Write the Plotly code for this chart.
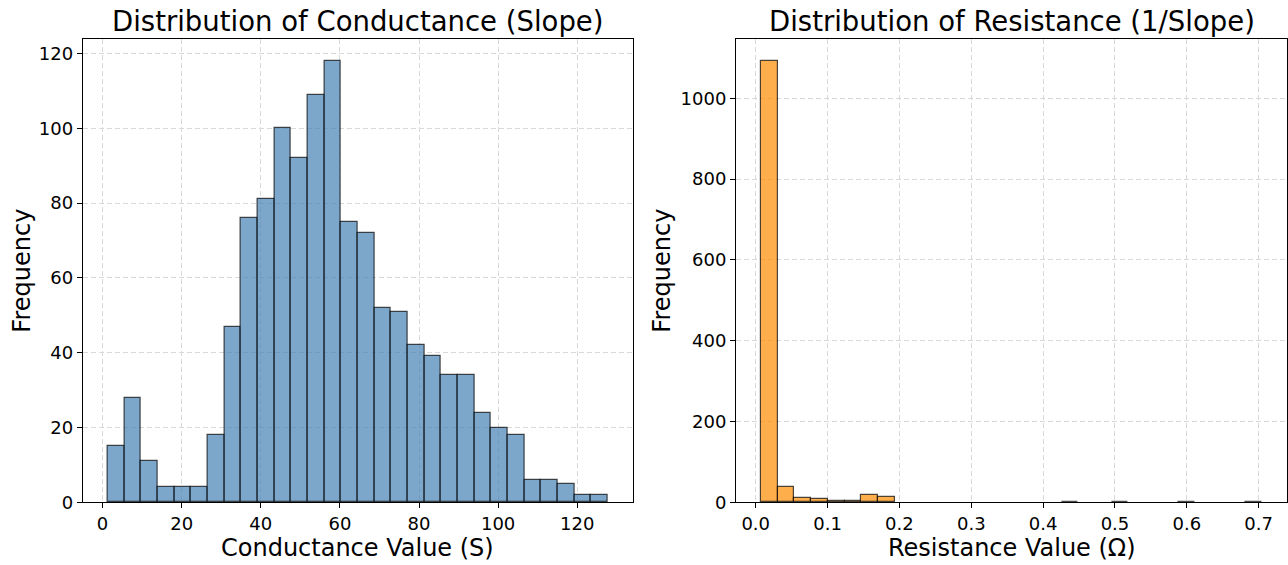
import numpy as np
import plotly.graph_objects as go

# ---- data ----
cond_min, cond_max = 1.3, 127.7
cond_counts = [15, 28, 11, 4, 4, 4, 18, 47, 76, 81, 100, 92, 109, 118, 75,
               72, 52, 51, 42, 39, 34, 34, 24, 20, 18, 6, 6, 5, 2, 2]

res_min, res_max = 0.0074, 0.7046
res_counts = [1092, 37, 10, 7, 3, 3, 19, 13, 0, 0, 0, 0, 0, 0, 0,
              0, 0, 0, 1, 0, 0, 1, 0, 0, 0, 1, 0, 0, 0, 1]

left_title = "Distribution of Conductance (Slope)"
right_title = "Distribution of Resistance (1/Slope)"
left_xlabel = "Conductance Value (S)"
right_xlabel = "Resistance Value (Ω)"
ylabel = "Frequency"


def bins(lo, hi, counts):
    edges = np.linspace(lo, hi, len(counts) + 1)
    centers = (edges[:-1] + edges[1:]) / 2
    return centers, edges[1] - edges[0]


def nz(counts):
    return [c if c > 0 else None for c in counts]


cx, cw = bins(cond_min, cond_max, cond_counts)
rx, rw = bins(res_min, res_max, res_counts)

FONT = "DejaVu Sans"
W, H = 1288, 565

fig = go.Figure()
fig.add_trace(go.Bar(x=cx, y=nz(cond_counts), width=cw, xaxis="x", yaxis="y",
                     marker=dict(color="rgba(70,130,180,0.7)",
                                 line=dict(color="rgba(0,0,0,0.7)", width=1.2)),
                     showlegend=False))
fig.add_trace(go.Bar(x=rx, y=nz(res_counts), width=rw, xaxis="x2", yaxis="y2",
                     marker=dict(color="rgba(255,140,0,0.7)",
                                 line=dict(color="rgba(0,0,0,0.7)", width=1.2)),
                     showlegend=False))

# pixel geometry of axes
L1, R1 = 82.7, 632.7
L2, R2 = 736.0, 1287.0
TOP, BOT = 39.0, 502.3
yd = [(H - BOT) / H, (H - TOP) / H]

def span(lo, hi):
    m = (hi - lo) * 0.05
    return [lo - m, hi + m]

axcommon = dict(showline=True, mirror=True, linecolor="black", linewidth=1,
                ticks="outside", ticklen=5, tickwidth=1, tickcolor="black",
                showgrid=True, gridcolor="#d9d9d9", griddash="5px,3px", gridwidth=1,
                zeroline=False, automargin=False,
                tickfont=dict(family=FONT, size=18, color="black"))

fig.update_layout(
    width=W, height=H,
    margin=dict(l=0, r=0, t=0, b=0),
    paper_bgcolor="white", plot_bgcolor="white",
    bargap=0,
    xaxis=dict(domain=[L1 / W, R1 / W], range=span(cond_min, cond_max),
               tickmode="array", tickvals=list(range(0, 121, 20)), anchor="y", **axcommon),
    yaxis=dict(domain=yd, range=[0, max(cond_counts) * 1.05],
               tickmode="array", tickvals=list(range(0, 121, 20)), anchor="x", **axcommon),
    xaxis2=dict(domain=[L2 / W, R2 / W], range=span(res_min, res_max),
                tickmode="array", tickvals=[i / 10 for i in range(8)],
                ticktext=[f"{i / 10:.1f}" for i in range(8)], anchor="y2", **axcommon),
    yaxis2=dict(domain=yd, range=[0, max(res_counts) * 1.05],
                tickmode="array", tickvals=list(range(0, 1001, 200)), anchor="x2", **axcommon),
)

ann = []
def txt(text, x, y, size, angle=0):
    ann.append(dict(text=text, x=x / W, y=1 - y / H, xref="paper", yref="paper",
                    showarrow=False, xanchor="center", yanchor="middle",
                    textangle=angle, font=dict(family=FONT, size=size, color="black")))

txt(left_title, (L1 + R1) / 2, 21, 27.5)
txt(right_title, (L2 + R2) / 2, 21, 27.5)
txt(left_xlabel, (L1 + R1) / 2, 548, 24)
txt(right_xlabel, (L2 + R2) / 2, 548, 24)
txt(ylabel, 22, (TOP + BOT) / 2, 24, -90)
txt(ylabel, 662, (TOP + BOT) / 2, 24, -90)
fig.update_layout(annotations=ann)

fig.write_html("out.html")
